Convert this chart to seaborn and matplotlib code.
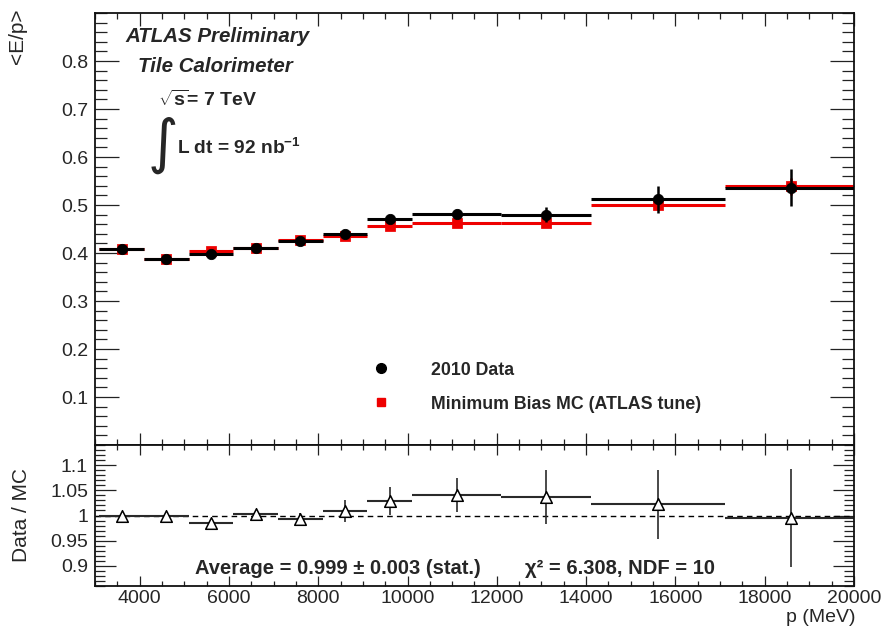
import numpy as np
import pandas as pd
import matplotlib
matplotlib.use("Agg")
import matplotlib.pyplot as plt
from matplotlib.ticker import MultipleLocator, FuncFormatter, FixedLocator
from matplotlib.lines import Line2D
import seaborn as sns

# Momentum bins (MeV)
bin_lo = [3100, 4100, 5100, 6100, 7100, 8100, 9100, 10100, 12100, 14100, 17100]
bin_hi = [4100, 5100, 6100, 7100, 8100, 9100, 10100, 12100, 14100, 17100, 20100]

# <E/p> in 2010 data and in minimum-bias MC
data_ep = [0.408, 0.388, 0.398, 0.411, 0.424, 0.440, 0.470, 0.482, 0.480, 0.512, 0.536]
data_err = [0.003, 0.003, 0.003, 0.003, 0.004, 0.006, 0.008, 0.010, 0.015, 0.028, 0.039]
mc_ep = [0.408, 0.388, 0.404, 0.410, 0.427, 0.436, 0.457, 0.463, 0.463, 0.501, 0.539]
mc_err = [0.002, 0.002, 0.003, 0.003, 0.003, 0.004, 0.005, 0.006, 0.008, 0.012, 0.018]

# Uncertainty on the Data / MC ratio
ratio_err = [0.004, 0.005, 0.007, 0.008, 0.012, 0.022, 0.028, 0.034, 0.053, 0.068, 0.097]

y_ticks_main = [0.1, 0.2, 0.3, 0.4, 0.5, 0.6, 0.7, 0.8]
y_ticks_ratio = [0.9, 0.95, 1.0, 1.05, 1.1]
x_ticks = [4000, 6000, 8000, 10000, 12000, 14000, 16000, 18000, 20000]

df = pd.DataFrame({
    "lo": bin_lo, "hi": bin_hi,
    "data": data_ep, "data_err": data_err,
    "mc": mc_ep, "mc_err": mc_err,
    "ratio_err": ratio_err,
})
df["p"] = (df["lo"] + df["hi"]) / 2
df["ratio"] = df["data"] / df["mc"]

sns.set_style("ticks")
plt.rcParams["font.family"] = ["Liberation Sans", "DejaVu Sans"]
plt.rcParams["mathtext.fontset"] = "custom"
plt.rcParams["mathtext.rm"] = "Liberation Sans:bold"
plt.rcParams["mathtext.bf"] = "Liberation Sans:bold"
plt.rcParams["mathtext.it"] = "Liberation Sans:bold"

W, H = 884, 627
fig = plt.figure(figsize=(W / 100, H / 100), dpi=100)
fig.patch.set_facecolor("white")


def box(x0, y0, x1, y1):
    return [x0 / W, 1 - y1 / H, (x1 - x0) / W, (y1 - y0) / H]


ax = fig.add_axes(box(95, 13, 854, 445))
ax2 = fig.add_axes(box(95, 445, 854, 586), sharex=ax)

# ---- main panel ----
ax.hlines(df["mc"], df["lo"], df["hi"], color="#ee0000", lw=2.2, zorder=2)
ax.errorbar(df["p"], df["mc"], yerr=df["mc_err"], fmt="none", ecolor="#ee0000", elinewidth=1.8, zorder=2)
sns.scatterplot(data=df, x="p", y="mc", marker="s", color="#ee0000", edgecolor="#ee0000",
                s=45, ax=ax, legend=False, zorder=3)
ax.hlines(df["data"], df["lo"], df["hi"], color="black", lw=2.2, zorder=4)
ax.errorbar(df["p"], df["data"], yerr=df["data_err"], fmt="none", ecolor="black", elinewidth=1.8, zorder=4)
sns.scatterplot(data=df, x="p", y="data", marker="o", color="black", edgecolor="black",
                s=55, ax=ax, legend=False, zorder=5)

ax.set_xlim(3000, 20000)
ax.set_ylim(0, 0.9)
ax.set_xlabel("")
ax.set_ylabel("")
ax.yaxis.set_major_locator(FixedLocator(y_ticks_main))
ax.yaxis.set_minor_locator(MultipleLocator(0.02))
ax.xaxis.set_major_locator(FixedLocator(x_ticks))
ax.xaxis.set_minor_locator(MultipleLocator(500))
ax.yaxis.set_major_formatter(FuncFormatter(lambda v, _: f"{v:g}"))
ax.tick_params(axis="both", which="both", direction="in", top=True, right=True,
               labelbottom=False, width=0.9, color="#222222")
ax.tick_params(axis="y", which="major", length=17, labelsize=14, pad=5)
ax.tick_params(axis="y", which="minor", length=8.5)
ax.tick_params(axis="x", which="major", length=9)
ax.tick_params(axis="x", which="minor", length=4.5)

handles = [
    Line2D([], [], marker="o", color="black", ls="none", ms=7),
    Line2D([], [], marker="s", color="#ee0000", ls="none", ms=6),
]
leg = ax.legend(handles, ["2010 Data", "Minimum Bias MC (ATLAS tune)"], loc="upper left",
                bbox_to_anchor=(0.366, 0.193), frameon=False, borderaxespad=0, borderpad=0,
                handlelength=0.9, handletextpad=2.4, labelspacing=0.95,
                prop={"weight": "bold", "size": 12.8})

# ---- ratio panel ----
ax2.axhline(1.0, ls=(0, (4, 3)), color="black", lw=1.0, zorder=1)
ax2.hlines(df["ratio"], df["lo"], df["hi"], color="#2a2a2a", lw=1.5, zorder=2)
ax2.errorbar(df["p"], df["ratio"], yerr=df["ratio_err"], fmt="none", ecolor="#2a2a2a",
             elinewidth=1.2, zorder=2)
sns.scatterplot(data=df, x="p", y="ratio", marker="^", facecolor="white", edgecolor="black",
                linewidth=1.1, s=70, ax=ax2, legend=False, zorder=3)

ax2.set_xlim(3000, 20000)
ax2.set_ylim(0.86, 1.14)
ax2.set_xlabel("")
ax2.set_ylabel("")
ax2.yaxis.set_major_locator(FixedLocator(y_ticks_ratio))
ax2.yaxis.set_minor_locator(MultipleLocator(0.01))
ax2.xaxis.set_major_locator(FixedLocator(x_ticks))
ax2.xaxis.set_minor_locator(MultipleLocator(500))
ax2.yaxis.set_major_formatter(FuncFormatter(lambda v, _: f"{v:g}"))
ax2.xaxis.set_major_formatter(FuncFormatter(lambda v, _: f"{v:.0f}"))
ax2.tick_params(axis="both", which="both", direction="in", top=True, right=True,
                width=0.9, color="#222222")
ax2.tick_params(axis="y", which="major", length=15, labelsize=14, pad=5)
ax2.tick_params(axis="y", which="minor", length=7)
ax2.tick_params(axis="x", which="major", length=7, labelsize=14, pad=3)
ax2.tick_params(axis="x", which="minor", length=3.5)

for a in (ax, ax2):
    for s in a.spines.values():
        s.set_linewidth(1.3)
        s.set_color("#111111")

# ---- annotations ----
def fx(x):
    return x / W


def fy(y):
    return 1 - y / H


fig.text(fx(125), fy(37), "ATLAS Preliminary", fontsize=14.8, fontweight="bold",
         fontstyle="italic", ha="left", va="center")
fig.text(fx(138), fy(66), "Tile Calorimeter", fontsize=14.8, fontweight="bold",
         fontstyle="italic", ha="left", va="center")
fig.text(fx(158), fy(100), r"$\sqrt{\mathbf{s}}$= 7 TeV", fontsize=14, fontweight="bold",
         ha="left", va="center")
fig.text(fx(162), fy(146), r"$\int$", fontsize=30, math_fontfamily="dejavusans",
         ha="center", va="center")
fig.text(fx(177), fy(148), r"L dt = 92 nb$^{-1}$", fontsize=13.8, fontweight="bold",
         ha="left", va="center")

fig.text(fx(17), fy(8), "<E/p>", fontsize=15, rotation=90, ha="center", va="top")
fig.text(fx(22), fy(515), "Data / MC", fontsize=15, rotation=90, ha="center", va="center")
fig.text(fx(855), fy(617), "p (MeV)", fontsize=14, ha="right", va="center")

fig.text(fx(338), fy(569), "Average = 0.999 \u00b1 0.003 (stat.)", fontsize=14.5,
         fontweight="bold", ha="center", va="center")
fig.text(fx(525), fy(569), "\u03c7\u00b2 = 6.308, NDF = 10", fontsize=14.5,
         fontweight="bold", ha="left", va="center")

fig.savefig("out.png", dpi=100)
